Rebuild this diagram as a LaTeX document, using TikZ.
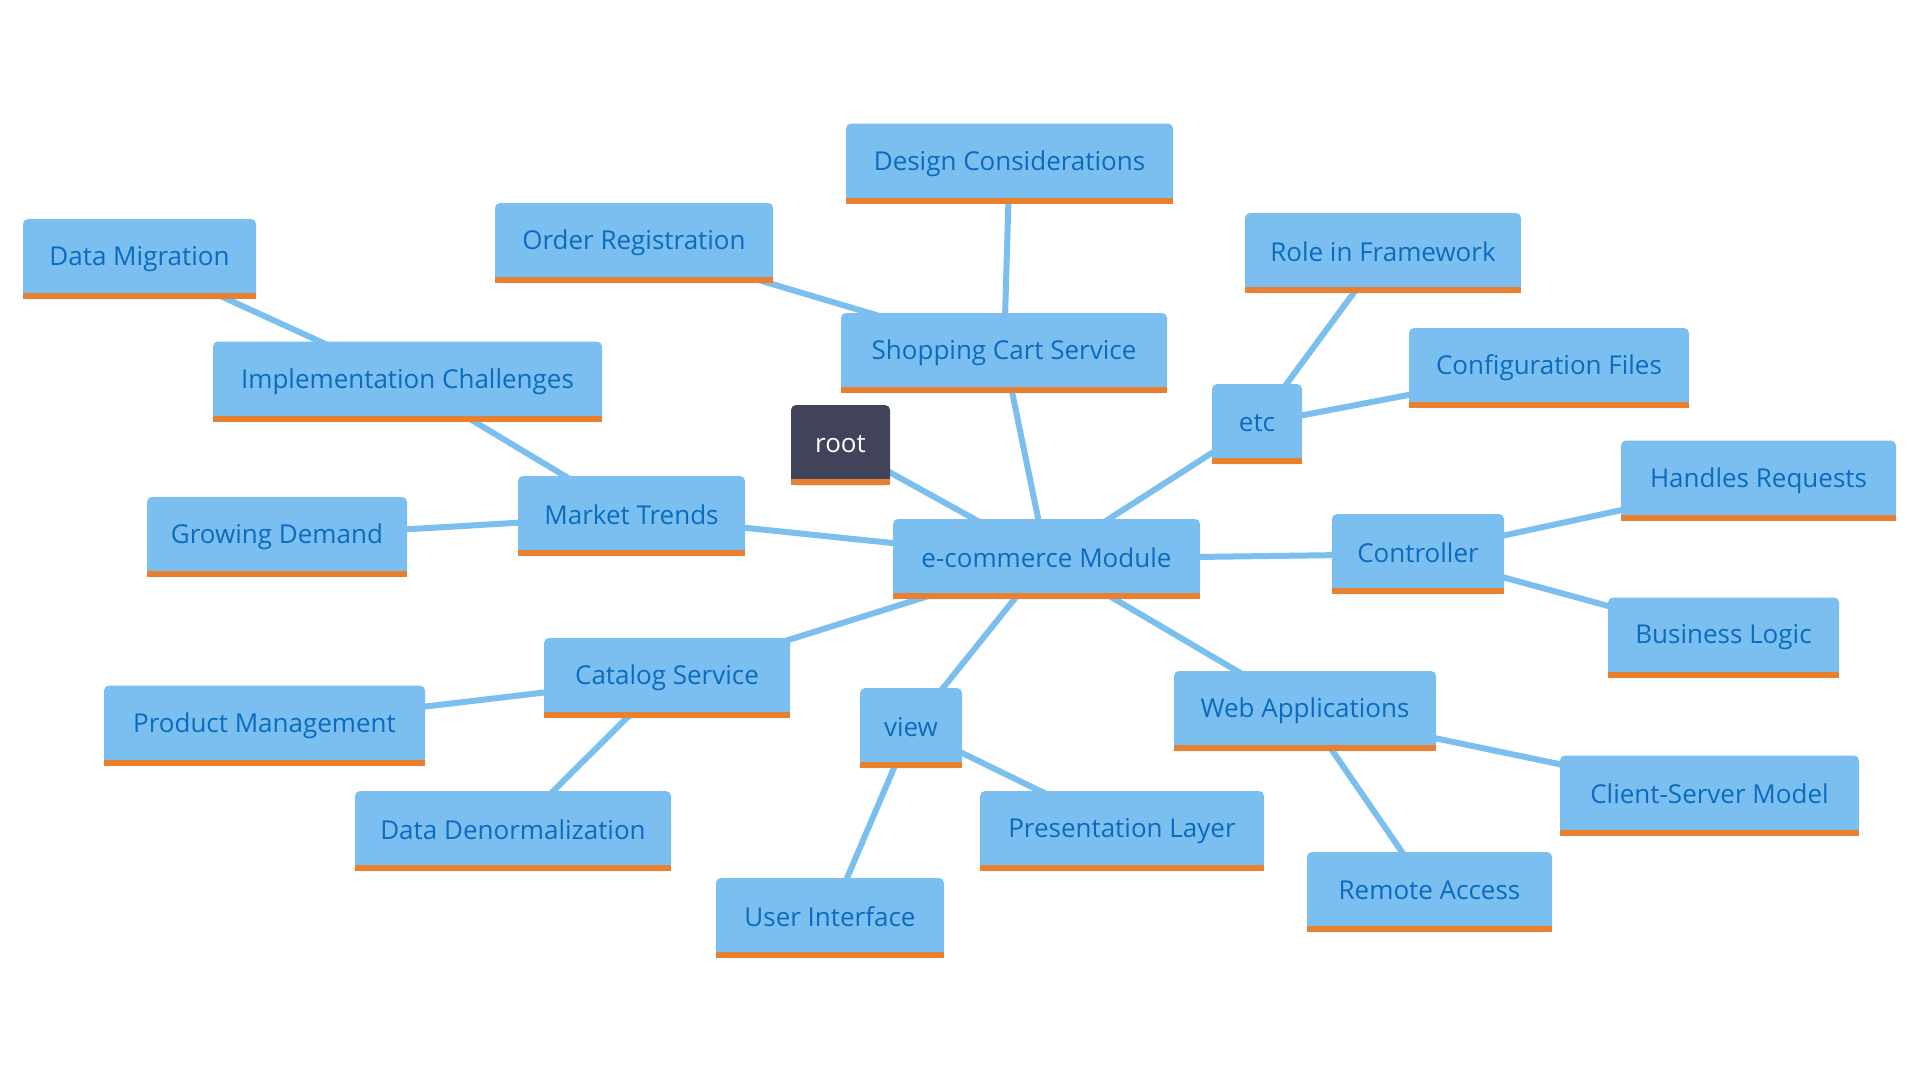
\documentclass[tikz,border=0pt]{standalone}
\usepackage{fontspec}
\setmainfont{Open Sans}
\begin{document}
\begin{tikzpicture}[x={(1pt,0)},y={(0,-1pt)},
  box/.style={fill=boxblue, rounded corners=5pt, minimum height=80pt, inner sep=0pt,
    text=txtblue, font=\fontsize{26}{30}\selectfont},
  rootbox/.style={box, fill=rootgray, text=white},
  link/.style={draw=lineblue, line width=6pt}]
\definecolor{boxblue}{HTML}{7BBFF0}
\definecolor{lineblue}{HTML}{7BBFEE}
\definecolor{txtblue}{HTML}{0B6BBF}
\definecolor{barorange}{HTML}{E8802F}
\definecolor{rootgray}{HTML}{40435A}
\useasboundingbox (0,0) rectangle (1920,1080);
% node centers
\coordinate (cdesign) at (1009.5,163.5);
\coordinate (corder) at (634,243);
\coordinate (cdatamig) at (139.5,259);
\coordinate (crole) at (1383,253);
\coordinate (ccart) at (1004,353);
\coordinate (cconfig) at (1549,368);
\coordinate (cimpl) at (407.5,381.5);
\coordinate (cetc) at (1257,424);
\coordinate (croot) at (840.5,445);
\coordinate (chandles) at (1758.5,480.5);
\coordinate (cmarket) at (631.5,516);
\coordinate (cgrowing) at (277,537);
\coordinate (cecom) at (1046.5,559);
\coordinate (ccontroller) at (1418,554);
\coordinate (cbusiness) at (1723.5,637.5);
\coordinate (ccatalog) at (667,678);
\coordinate (cwebapp) at (1305,711);
\coordinate (cproduct) at (264.5,725.5);
\coordinate (cview) at (911,728);
\coordinate (cclient) at (1709.5,795.5);
\coordinate (cdenorm) at (513,831);
\coordinate (cpresent) at (1122,831);
\coordinate (cremote) at (1429.5,892);
\coordinate (cui) at (830,918);
% connectors (drawn first, under boxes)
\foreach \a/\b in {root/ecom, ecom/cart, cart/design, cart/order, ecom/etc, etc/role, etc/config,
  ecom/controller, controller/handles, controller/business, ecom/webapp, webapp/client, webapp/remote,
  ecom/view, view/present, view/ui, ecom/catalog, catalog/product, catalog/denorm,
  ecom/market, market/growing, market/impl, impl/datamig}
  \draw[link] (c\a) -- (c\b);
% boxes
\foreach \n/\w/\t in {design/327/Design Considerations, order/278/Order Registration,
  datamig/233/Data Migration, role/276/Role in Framework, cart/326/Shopping Cart Service,
  config/280/Configuration Files, impl/389/Implementation Challenges, etc/90/etc,
  handles/275/Handles Requests, market/227/Market Trends, growing/260/Growing Demand,
  ecom/307/e-commerce Module, controller/172/Controller, business/231/Business Logic,
  catalog/246/Catalog Service, webapp/262/Web Applications, product/321/Product Management,
  view/102/view, client/299/Client-Server Model, denorm/316/Data Denormalization,
  present/284/Presentation Layer, remote/245/Remote Access, ui/228/User Interface}
{
  \node[box, minimum width=\w pt] (\n) at (c\n) {\raisebox{3pt}{\t}};
  \fill[barorange] (\n.south west) rectangle ([yshift=6pt]\n.south east);
}
\node[rootbox, minimum width=99pt] (root) at (croot) {\raisebox{3pt}{root}};
\fill[barorange] (root.south west) rectangle ([yshift=6pt]root.south east);
\end{tikzpicture}
\end{document}
